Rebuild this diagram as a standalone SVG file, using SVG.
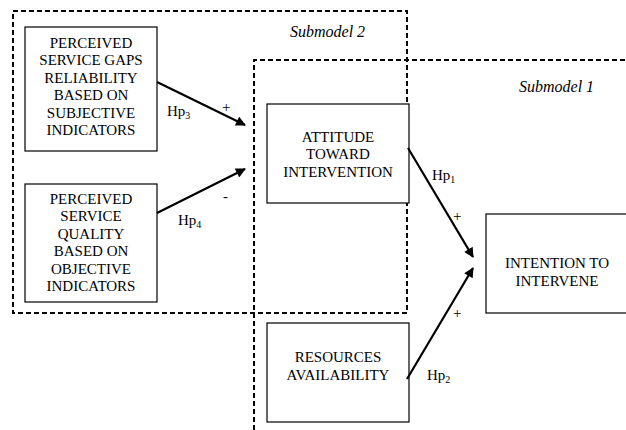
<svg xmlns="http://www.w3.org/2000/svg" width="626" height="430" viewBox="0 0 626 430">
<style>
.box{fill:#fff;stroke:#000;stroke-width:1.2}
.dash{fill:none;stroke:#000;stroke-width:2;stroke-dasharray:5 3}
.t{font-family:'Liberation Serif','Times New Roman','DejaVu Serif',serif;font-size:15px;fill:#000;text-anchor:middle}
.lbl{font-family:'Liberation Serif','Times New Roman','DejaVu Serif',serif;font-size:15px;fill:#000}
.sub{font-size:10px}
.it{font-family:'Liberation Serif','Times New Roman','DejaVu Serif',serif;font-size:16px;font-style:italic;fill:#000}
.arr{stroke:#000;stroke-width:2.2;fill:none;marker-end:url(#ah)}
</style>
<defs>
<marker id="ah" viewBox="0 0 10 10" refX="9" refY="5" markerWidth="5" markerHeight="4.5" orient="auto" markerUnits="strokeWidth">
<path d="M0,0 L10,5 L0,10 z" fill="#000"/>
</marker>
</defs>
<rect width="626" height="430" fill="#fff"/>
<g id="submodel2">
<rect class="dash" x="13" y="11" width="394" height="302"/>
<text class="it" x="290" y="37">Submodel 2</text>
</g>
<g id="submodel1">
<path class="dash" d="M254,430 L254,60 L626,60"/>
<text class="it" x="519" y="92">Submodel 1</text>
</g>
<g id="n-gaps">
<rect class="box" x="25" y="27" width="132" height="124"/>
<text class="t" x="91" y="48">PERCEIVED</text>
<text class="t" x="91" y="65.4">SERVICE GAPS</text>
<text class="t" x="91" y="82.8">RELIABILITY</text>
<text class="t" x="91" y="100.2">BASED ON</text>
<text class="t" x="91" y="117.6">SUBJECTIVE</text>
<text class="t" x="91" y="135">INDICATORS</text>
</g>
<g id="n-quality">
<rect class="box" x="25" y="184" width="132" height="118"/>
<text class="t" x="91" y="204">PERCEIVED</text>
<text class="t" x="91" y="221.4">SERVICE</text>
<text class="t" x="91" y="238.8">QUALITY</text>
<text class="t" x="91" y="256.2">BASED ON</text>
<text class="t" x="91" y="273.6">OBJECTIVE</text>
<text class="t" x="91" y="291">INDICATORS</text>
</g>
<g id="n-attitude">
<rect class="box" x="267" y="104" width="142" height="99"/>
<text class="t" x="338" y="141.7">ATTITUDE</text>
<text class="t" x="338" y="159">TOWARD</text>
<text class="t" x="338" y="176.5">INTERVENTION</text>
</g>
<g id="n-resources">
<rect class="box" x="267" y="323" width="142" height="99"/>
<text class="t" x="338" y="361.7">RESOURCES</text>
<text class="t" x="338" y="380">AVAILABILITY</text>
</g>
<g id="n-intention">
<rect class="box" x="486" y="214" width="150" height="99"/>
<text class="t" x="557" y="268">INTENTION TO</text>
<text class="t" x="557" y="286">INTERVENE</text>
</g>
<g id="connectors">
<line class="arr" x1="157" y1="82" x2="245" y2="125"/>
<line class="arr" x1="157" y1="213" x2="245" y2="169"/>
<line class="arr" x1="408" y1="148" x2="473" y2="257"/>
<line class="arr" x1="407" y1="379" x2="473" y2="268"/>
<text class="lbl" x="167" y="116">Hp<tspan class="sub" dy="3">3</tspan></text>
<text class="lbl" x="222" y="112">+</text>
<text class="lbl" x="178" y="225">Hp<tspan class="sub" dy="3">4</tspan></text>
<text class="lbl" x="223" y="201">-</text>
<text class="lbl" x="432" y="180">Hp<tspan class="sub" dy="3">1</tspan></text>
<text class="lbl" x="453" y="221">+</text>
<text class="lbl" x="427" y="380">Hp<tspan class="sub" dy="3">2</tspan></text>
<text class="lbl" x="453" y="318">+</text>
</g>
</svg>
